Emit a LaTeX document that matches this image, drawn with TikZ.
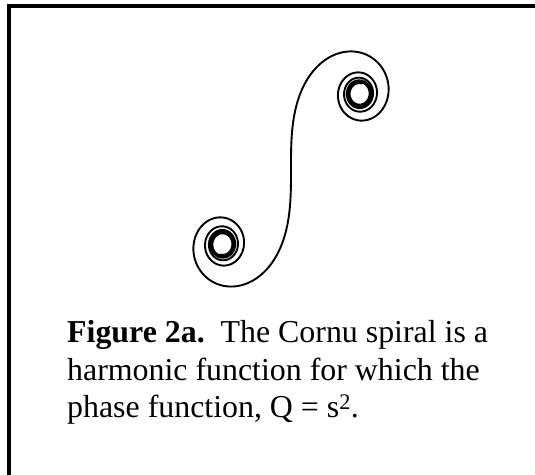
\documentclass[tikz,border=0pt]{standalone}
\usepackage{fontspec}
\setmainfont{Liberation Serif}
\usetikzlibrary{positioning}

\tikzset{
  captxt/.style={anchor=base west, inner sep=0pt, font=\fontsize{32}{37}\selectfont},
  frameline/.style={line width=4bp, line join=miter},
  cornu/.style={line width=1.9bp, line join=round, line cap=round}
}

\begin{document}
\begin{tikzpicture}[x=1bp,y=1bp]

\useasboundingbox (0,0) rectangle (535,475);

% frame, only top and left
\draw[frameline] (9,0) -- (9,469) -- (535,469);

% spiral points x = S(t), y = C(t), t = 0 .. 4.6
\gdef\cornux{0}\gdef\cornuy{0}\gdef\cornupts{(0,0)}
\foreach \k in {1,...,460}{
  \pgfmathsetmacro\cornuang{90*((\k-0.5)/100)^2}
  \pgfmathsetmacro\cornunx{\cornux+0.01*sin(\cornuang)}
  \pgfmathsetmacro\cornuny{\cornuy+0.01*cos(\cornuang)}
  \xdef\cornux{\cornunx}\xdef\cornuy{\cornuny}
  \xdef\cornupts{\cornupts (\cornunx,\cornuny)}
}

\begin{scope}[shift={(291,306)}, xscale=137, yscale=151]
\draw[cornu] plot coordinates {\cornupts};
\draw[cornu, rotate=180] plot coordinates {\cornupts};
\end{scope}

\node[captxt] (cap1) at (67,132) {\textbf{Figure 2a.}\ \ The Cornu spiral is a};
\node[captxt] (cap2) at (67,94) {harmonic function for which the};
\node[captxt] (cap3) at (67,57) {phase function, Q = s\textsuperscript{2}.};

\end{tikzpicture}
\end{document}
